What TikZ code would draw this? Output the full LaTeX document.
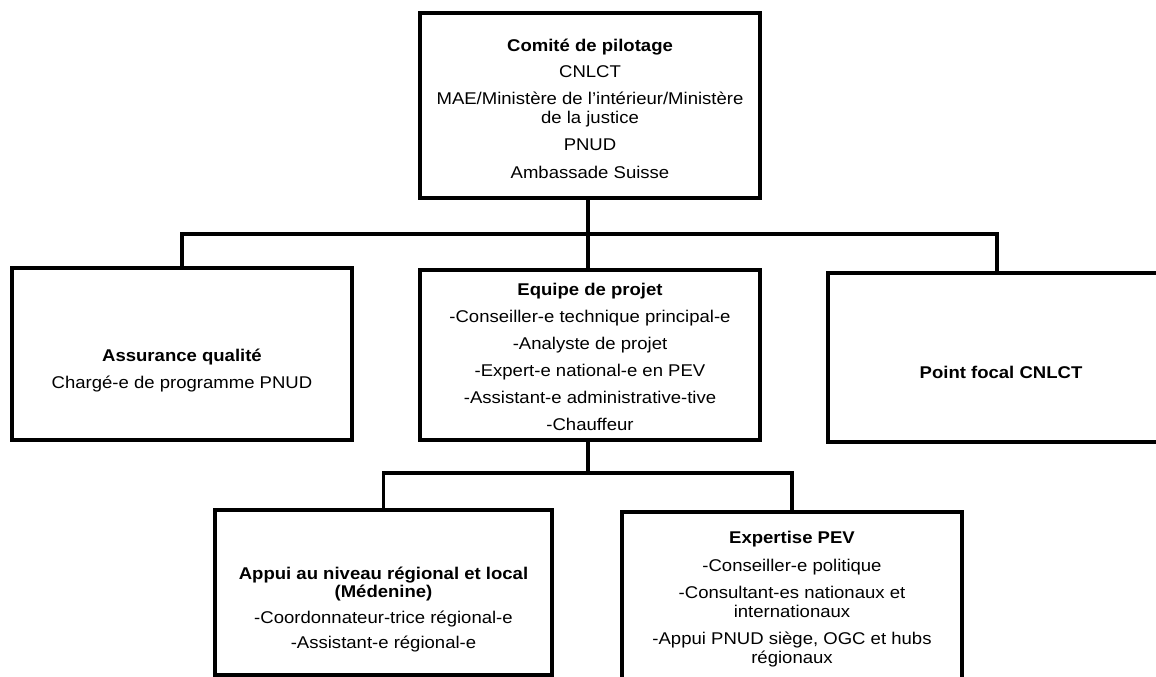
\documentclass[tikz,border=0pt]{standalone}
\usepackage{fontspec}
\setmainfont[FakeStretch=1.09]{Liberation Sans}
\newcommand{\stack}[1]{\begin{tabular}{@{}c@{}}#1\end{tabular}}
\begin{document}
\begin{tikzpicture}[x=1pt,y=-1pt,
  orgbox/.style={draw=black, line width=3.6pt, inner sep=0pt},
  txt/.style={font=\fontsize{17}{18.5}\selectfont, inner sep=0pt},
  link/.style={draw=black, line width=3.4pt}]
\useasboundingbox (0,0) rectangle (1156,677);
\clip (0,0) rectangle (1156,677);
% boxes
\node[orgbox, minimum width=340pt, minimum height=185pt] (top) at (590,105.5) {};
\node[orgbox, minimum width=340pt, minimum height=172pt] (left) at (182,354) {};
\node[orgbox, minimum width=340pt, minimum height=170pt] (mid) at (590,355) {};
\node[orgbox, minimum width=347pt, minimum height=169pt] (right) at (1001.5,357.5) {};
\node[orgbox, minimum width=337pt, minimum height=165pt] (bl) at (383.5,592.5) {};
\node[orgbox, minimum width=340pt, minimum height=183pt] (br) at (792,603.5) {};
% texts
\node[txt] (toptxt) at (590,111.5) {\stack{\textbf{Comité de pilotage}\\[7pt]CNLCT\\[9pt]MAE/Ministère de l’intérieur/Ministère\\de la justice\\[9pt]PNUD\\[9pt]Ambassade Suisse}};
\node[txt] (lefttxt) at (182,371.5) {\stack{\textbf{Assurance qualité}\\[9pt]Chargé-e de programme PNUD}};
\node[txt] (midtxt) at (590,359) {\stack{\textbf{Equipe de projet}\\[8.5pt]-Conseiller-e technique principal-e\\[8.5pt]-Analyste de projet\\[8.5pt]-Expert-e national-e en PEV\\[8.5pt]-Assistant-e administrative-tive\\[8.5pt]-Chauffeur}};
\node[txt] (righttxt) at (1001,372) {\textbf{Point focal CNLCT}};
\node[txt] (bltxt) at (383.5,610.5) {\stack{\textbf{Appui au niveau régional et local}\\\textbf{(Médenine)}\\[7pt]-Coordonnateur-trice régional-e\\[7pt]-Assistant-e régional-e}};
\node[txt] (brtxt) at (792,600) {\stack{\textbf{Expertise PEV}\\[9pt]-Conseiller-e politique\\[9pt]-Consultant-es nationaux et\\internationaux\\[9pt]-Appui PNUD siège, OGC et hubs\\régionaux}};
% connectors
\coordinate (bus1) at (588,234);
\coordinate (rj) at (997,234);
\coordinate (bus2) at (588,473);
\draw[link] (top.south -| bus1) -- (bus1);
\draw[link] (bus1) -- (mid.north -| bus1);
\draw[link] (left.north) |- (bus1);
\draw[link] (bus1) -- (rj) -- (right.north -| rj);
\draw[link] (mid.south -| bus2) -- (bus2);
\draw[link] (bl.north) |- (bus2);
\draw[link] (bus2) -| (br.north);
\end{tikzpicture}
\end{document}
